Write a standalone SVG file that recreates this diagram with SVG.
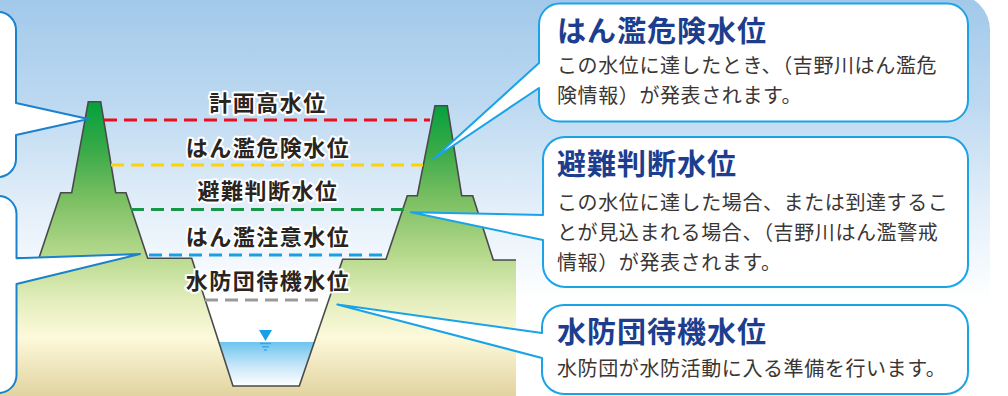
<svg xmlns="http://www.w3.org/2000/svg" width="1008" height="396" viewBox="0 0 1008 396">
  <defs>
    <linearGradient id="sky" gradientUnits="userSpaceOnUse" x1="0" y1="0" x2="0" y2="300">
      <stop offset="0" stop-color="#a2c9ea"/>
      <stop offset="0.35" stop-color="#bdd9f1"/>
      <stop offset="0.68" stop-color="#e2eef9"/>
      <stop offset="0.87" stop-color="#f3f8fd"/>
      <stop offset="1" stop-color="#ffffff"/>
    </linearGradient>
    <linearGradient id="earth" gradientUnits="userSpaceOnUse" x1="0" y1="100" x2="0" y2="396">
      <stop offset="0" stop-color="#00a03c"/>
      <stop offset="0.17" stop-color="#3aaa48"/>
      <stop offset="0.34" stop-color="#7cc063"/>
      <stop offset="0.53" stop-color="#b8da8e"/>
      <stop offset="0.68" stop-color="#e4eebd"/>
      <stop offset="0.8" stop-color="#fdf9db"/>
      <stop offset="1" stop-color="#e2d3a0"/>
    </linearGradient>
    <linearGradient id="water" gradientUnits="userSpaceOnUse" x1="0" y1="342" x2="0" y2="386">
      <stop offset="0" stop-color="#6dc4ee"/>
      <stop offset="0.55" stop-color="#c8e7f8"/>
      <stop offset="1" stop-color="#ffffff"/>
    </linearGradient>
    <style>
      .lvl { font-family: "Noto Sans CJK JP", sans-serif; font-weight: 700; font-size: 22px; letter-spacing: 1.5px; fill: #2a2420; stroke: #ffffff; stroke-width: 4; stroke-linejoin: round; paint-order: stroke; text-anchor: middle; }
      .dash { fill: none; stroke-width: 3; stroke-dasharray: 13 7; }
      .box { fill: #ffffff; stroke: #1aa3e6; stroke-width: 2; stroke-linejoin: round; }
      .boxL { fill: #ffffff; stroke: #1a82cc; stroke-width: 2; stroke-linejoin: round; }
      .ttl { font-family: "Noto Sans CJK JP", sans-serif; font-weight: 700; font-size: 29px; letter-spacing: 1px; fill: #1d3e8e; }
      .txt { font-family: "Noto Sans CJK JP", sans-serif; font-weight: 400; font-size: 20px; letter-spacing: 0.6px; fill: #3a3634; }
    </style>
  </defs>

  <!-- sky panel -->
  <path d="M0,-6 H954 A36 36 0 0 1 990,30 V396 H0 Z" fill="url(#sky)"/>

  <!-- ground with levees and river channel -->
  <g id="ground">
    <path d="M0,258 H39 L60.7,192.7 H71.7 L88.3,101.7 H100.7 L115.7,192.7 H126 L147.7,258.3 H191.7 L233,386 H299.3 L342.7,259.3 H386 L407.3,195.7 H417.3 L435,105.7 H447.3 L461.7,195.7 H472.7 L493.3,260 H516 V396 H0 Z" fill="url(#earth)"/>
    <path d="M218.8,342 H314.2 L299.3,386 H233 Z" fill="url(#water)"/>
    <path d="M0,258 H39 L60.7,192.7 H71.7 L88.3,101.7 H100.7 L115.7,192.7 H126 L147.7,258.3 H191.7 L233,386 H299.3 L342.7,259.3 H386 L407.3,195.7 H417.3 L435,105.7 H447.3 L461.7,195.7 H472.7 L493.3,260 H516" fill="none" stroke="#4a4a4a" stroke-width="1.6" stroke-linejoin="miter"/>
    <!-- water surface mark -->
    <path d="M259,330 H272 L265.5,341 Z" fill="#1aa0e6"/>
    <g stroke="#38a6e6" stroke-width="1.4">
      <line x1="260" y1="343.5" x2="271" y2="343.5"/>
      <line x1="262" y1="346.8" x2="269" y2="346.8"/>
      <line x1="264" y1="350" x2="267" y2="350"/>
    </g>
  </g>

  <!-- water level lines -->
  <g id="levels">
    <line class="dash" x1="104" y1="120" x2="430" y2="120" stroke="#e60f1e"/>
    <line class="dash" x1="111" y1="165" x2="423" y2="165" stroke="#ffd200"/>
    <line class="dash" x1="131" y1="209.5" x2="405" y2="209.5" stroke="#17964a"/>
    <line class="dash" x1="149" y1="255" x2="386" y2="255" stroke="#19a0e2"/>
    <line class="dash" x1="205" y1="300" x2="324" y2="300" stroke="#9a9a9a"/>
  </g>

  <g id="level-labels">
    <text class="lvl" x="268" y="111">計画高水位</text>
    <text class="lvl" x="268" y="156">はん濫危険水位</text>
    <text class="lvl" x="268" y="199">避難判断水位</text>
    <text class="lvl" x="268" y="245">はん濫注意水位</text>
    <text class="lvl" x="268" y="289">水防団待機水位</text>
  </g>

  <!-- callouts on the left edge -->
  <g id="callout-left-1">
    <path class="boxL" d="M-30,12 H-2 A18 18 0 0 1 16,30 V103 L88.3,119 L16,135 V159 A18 18 0 0 1 -2,177 H-30 Z"/>
  </g>
  <g id="callout-left-2">
    <path class="boxL" d="M-30,196 H-2 A18 18 0 0 1 16.5,214 V258.3 L140,254 L16.5,284 V375 A18 18 0 0 1 -2,393 H-30 Z"/>
  </g>

  <!-- callouts on the right -->
  <g id="callout-hanran-kiken">
    <path class="box" d="M560,3.5 H947 A21 21 0 0 1 968,24.5 V100.5 A21 21 0 0 1 947,121.5 H560 A21 21 0 0 1 539,100.5 V88 L433.3,159 L539,63 V24.5 A21 21 0 0 1 560,3.5 Z"/>
    <text class="ttl" x="557" y="42">はん濫危険水位</text>
    <text class="txt" x="557" y="73">この水位に達したとき、（吉野川はん濫危</text>
    <text class="txt" x="557" y="103">険情報）が発表されます。</text>
  </g>

  <g id="callout-hinan-handan">
    <path class="box" d="M565,137 H946 A22 22 0 0 1 968,159 V265 A22 22 0 0 1 946,287 H565 A22 22 0 0 1 543,265 V240 L411,212.3 L543,215 V159 A22 22 0 0 1 565,137 Z"/>
    <text class="ttl" x="557" y="175">避難判断水位</text>
    <text class="txt" x="557" y="210">この水位に達した場合、または到達するこ</text>
    <text class="txt" x="557" y="240">とが見込まれる場合、（吉野川はん濫警戒</text>
    <text class="txt" x="557" y="270">情報）が発表されます。</text>
  </g>

  <g id="callout-suibodan">
    <path class="box" d="M564,305 H946 A22 22 0 0 1 968,327 V372 A22 22 0 0 1 946,394 H564 A22 22 0 0 1 542,372 V358 L337.3,304.5 L542,333 V327 A22 22 0 0 1 564,305 Z"/>
    <text class="ttl" x="557" y="343">水防団待機水位</text>
    <text class="txt" x="557" y="376">水防団が水防活動に入る準備を行います。</text>
  </g>
</svg>
